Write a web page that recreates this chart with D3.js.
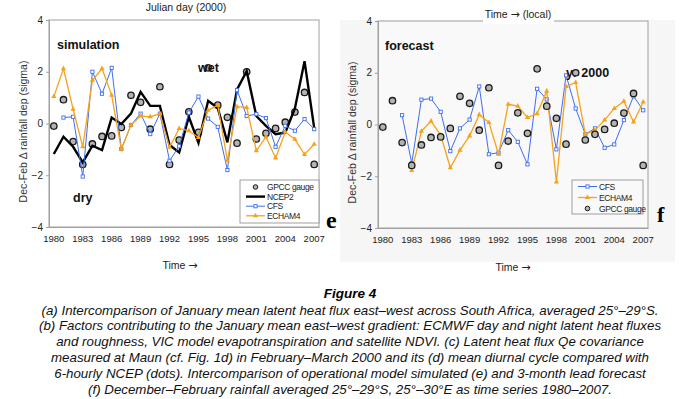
<!DOCTYPE html>
<html>
<head>
<meta charset="utf-8">
<script src="https://cdn.jsdelivr.net/npm/d3@7"></script>
<style>
  body { margin: 0; background: #fff; }
  svg { display: block; font-family: "Liberation Sans", Arial, sans-serif; }
</style>
</head>
<body>
<div class="chart-area"></div>
<script>
// Figure 4 (e) simulated and (f) forecast Dec-Feb rainfall, 1980-2007

// ---- Data ----
const years = [1980, 1981, 1982, 1983, 1984, 1985, 1986, 1987, 1988, 1989,
               1990, 1991, 1992, 1993, 1994, 1995, 1996, 1997, 1998, 1999,
               2000, 2001, 2002, 2003, 2004, 2005, 2006, 2007];
const xTickYears = [1980, 1983, 1986, 1989, 1992, 1995, 1998, 2001, 2004, 2007];
const yTicks = [-4, -2, 0, 2, 4];

// observed (both panels)
const gpcc = [-0.1, 0.92, -0.7, -1.58, -0.79, -0.5, -0.48, -0.15, 1.09, 0.82,
              -0.22, 1.42, -1.58, -0.64, 0.45, -0.34, 2.15, 0.71, 0.24, -0.76,
              2.0, -0.6, -0.38, -0.19, 0.05, 0.44, 1.2, -1.58];

// (e) simulation
const ncep2 = [-1.18, -0.51, -0.9, -1.5, -0.86, -1.03, 0.23, -0.02, 0.38, 1.22,
               0.68, 0.68, -0.83, -1.12, 0.26, -0.75, 0.88, 0.6, -0.73, 1.32,
               2.02, 0.29, -0.09, -0.41, -0.35, 0.58, 2.41, -0.17];
const cfsSim = [null, 0.23, 0.26, -2.05, 2.0, 1.15, 2.15, -0.99, -0.06, 0.38,
                -0.41, 0.38, -1.44, -0.88, 0.42, 1.04, 0.19, -0.13, -1.8, 1.29,
                0.29, 0.36, 0.21, -0.9, -0.09, -0.28, 0.17, -0.22];
const echamSim = [1.04, 2.12, 0.55, -0.9, 1.67, 2.12, 1.09, -0.99, -0.06, 0.29,
                  0.26, 0.38, -0.92, -0.19, -0.28, -0.54, 0.51, 0.71, -1.44, 0.65,
                  0.62, -1.05, -0.52, -1.33, -0.33, -0.61, -1.2, -0.8];

// (f) forecast
const cfsFcst = [null, null, 0.36, -1.5, 0.96, 1.0, 0.49, -1.03, -0.15, 0.19,
                 1.47, -1.15, -1.09, -0.22, -0.67, -1.54, 1.38, 0.97, -0.96, 1.9,
                 0.62, -0.38, -0.15, -0.9, -0.77, 0.17, 1.09, 0.55];
const echamFcst = [null, null, null, -1.78, -0.26, 0.13, -0.41, -1.67, -0.99, -0.44,
                   0.38, 0.08, -1.15, 0.78, 0.71, 0.27, 0.42, 1.29, -2.22, 1.47,
                   1.62, -0.38, -0.22, 0.17, 0.62, 0.9, 0.1, 0.87];

const captionTitle = "Figure 4";
const captionLines = [
  "(a) Intercomparison of January mean latent heat flux east\u2013west across South Africa, averaged 25\u00b0\u201329\u00b0S.",
  "(b) Factors contributing to the January mean east\u2013west gradient: ECMWF day and night latent heat fluxes",
  "and roughness, VIC model evapotranspiration and satellite NDVI. (c) Latent heat flux Qe covariance",
  "measured at Maun (cf. Fig. 1d) in February\u2013March 2000 and its (d) mean diurnal cycle compared with",
  "6-hourly NCEP (dots). Intercomparison of operational model simulated (e) and 3-month lead forecast",
  "(f) December\u2013February rainfall averaged 25\u00b0\u201329\u00b0S, 25\u00b0\u201330\u00b0E as time series 1980\u20132007."
];

// ---- Styles ----
const BLUE = "#3d6ef2";
const ORANGE = "#f7a21b";
const FRAME = "#a0a0a0";

const svg = d3.select(".chart-area").append("svg")
    .attr("width", 700)
    .attr("height", 399);

// right panel grey backdrop
svg.append("rect")
    .attr("x", 340).attr("y", 20)
    .attr("width", 335).attr("height", 242)
    .attr("fill", "#f6f6f6");

function drawPanel(box, series, legendItems, legendBox) {
    const g = svg.append("g");

    const x = d3.scaleBand().domain(years).range([box.x0, box.x1]);
    const y = d3.scaleLinear().domain([-4, 4]).range([box.y1, box.y0]);
    const cx = d => x(d) + x.bandwidth() / 2;

    g.append("rect")
        .attr("x", box.x0).attr("y", box.y0)
        .attr("width", box.x1 - box.x0).attr("height", box.y1 - box.y0)
        .attr("fill", box.fill)
        .attr("stroke", FRAME);

    // y axis
    const yAxis = g.append("g")
        .attr("transform", `translate(${box.x0},0)`)
        .call(d3.axisLeft(y).tickValues(yTicks).tickSize(3).tickPadding(3).tickFormat(d3.format("d")));
    yAxis.select(".domain").attr("stroke", FRAME);
    yAxis.selectAll(".tick line").attr("stroke", FRAME);
    yAxis.selectAll("text").attr("font-size", 10).attr("fill", "#222")
        .attr("font-family", "Liberation Sans, Arial, sans-serif");

    // x axis labels
    const xAxis = g.append("g")
        .attr("transform", `translate(0,${box.y1})`)
        .call(d3.axisBottom(x).tickValues(xTickYears).tickSize(0).tickPadding(8));
    xAxis.select(".domain").attr("stroke", FRAME);
    xAxis.selectAll("text").attr("font-size", 9.5).attr("fill", "#222")
        .attr("font-family", "Liberation Sans, Arial, sans-serif");

    // y axis title
    g.append("text")
        .attr("transform", `translate(${box.x0 - 22},${(box.y0 + box.y1) / 2 + 8}) rotate(-90)`)
        .attr("text-anchor", "middle")
        .attr("font-size", 10.5)
        .attr("fill", "#333")
        .text("Dec-Feb \u0394 rainfall dep (sigma)");

    series.forEach(s => {
        const pts = years.map((yr, i) => ({ yr, v: s.values[i] }));
        if (s.type === "line") {
            const line = d3.line()
                .defined(d => d.v != null)
                .x(d => cx(d.yr))
                .y(d => y(d.v));
            g.append("path")
                .datum(pts)
                .attr("d", line)
                .attr("fill", "none")
                .attr("stroke", s.color)
                .attr("stroke-width", s.width)
                .attr("stroke-linejoin", "miter");
        }
        const valid = pts.filter(d => d.v != null);
        if (s.marker === "square") {
            g.selectAll(null).data(valid).join("rect")
                .attr("x", d => cx(d.yr) - 1.6)
                .attr("y", d => y(d.v) - 1.6)
                .attr("width", 3.2).attr("height", 3.2)
                .attr("fill", "#fff")
                .attr("stroke", s.color)
                .attr("stroke-width", 0.9);
        } else if (s.marker === "triangle") {
            g.selectAll(null).data(valid).join("path")
                .attr("transform", d => `translate(${cx(d.yr)},${y(d.v)})`)
                .attr("d", d3.symbol(d3.symbolTriangle, 12))
                .attr("fill", s.color);
        } else if (s.marker === "circle") {
            g.selectAll(null).data(valid).join("circle")
                .attr("cx", d => cx(d.yr))
                .attr("cy", d => y(d.v))
                .attr("r", 3.2)
                .attr("fill", "#b4b4b4")
                .attr("stroke", "#1a1a1a")
                .attr("stroke-width", 1.3);
        }
    });

    // legend
    const lg = g.append("g");
    lg.append("rect")
        .attr("x", legendBox.x).attr("y", legendBox.y)
        .attr("width", legendBox.w).attr("height", legendBox.h)
        .attr("fill", legendBox.fill)
        .attr("stroke", "#888")
        .attr("stroke-width", 0.8);
    legendItems.forEach((item, i) => {
        const ly = legendBox.y + legendBox.first + i * legendBox.step;
        const x0 = legendBox.x + 6, x1 = legendBox.x + 25;
        if (item.type === "line") {
            lg.append("line")
                .attr("x1", x0).attr("x2", x1)
                .attr("y1", ly).attr("y2", ly)
                .attr("stroke", item.color)
                .attr("stroke-width", item.width);
        }
        const mx = (x0 + x1) / 2;
        if (item.marker === "square") {
            lg.append("rect")
                .attr("x", mx - 1.6).attr("y", ly - 1.6)
                .attr("width", 3.2).attr("height", 3.2)
                .attr("fill", "#fff").attr("stroke", item.color).attr("stroke-width", 0.9);
        } else if (item.marker === "triangle") {
            lg.append("path")
                .attr("transform", `translate(${mx},${ly})`)
                .attr("d", d3.symbol(d3.symbolTriangle, 12))
                .attr("fill", item.color);
        } else if (item.marker === "circle") {
            lg.append("circle")
                .attr("cx", mx).attr("cy", ly).attr("r", 2.3)
                .attr("fill", "#b4b4b4").attr("stroke", "#1a1a1a").attr("stroke-width", 1);
        }
        lg.append("text")
            .attr("x", x1 + 2)
            .attr("y", ly + 3)
            .attr("font-size", 8.5)
            .attr("letter-spacing", -0.4)
            .attr("fill", "#222")
            .text(item.name);
    });

    return { g, x, y, cx };
}

const gpccSeries = { name: "GPCC gauge", type: "points", marker: "circle", values: gpcc };
const ncepSeries = { name: "NCEP2", type: "line", color: "#000", width: 2.4, values: ncep2 };

// ---- (e) simulation ----
const left = drawPanel(
    { x0: 49, x1: 319, y0: 20, y1: 227, fill: "#fff" },
    [
        gpccSeries,
        ncepSeries,
        { name: "CFS", type: "line", color: BLUE, width: 1, marker: "square", values: cfsSim },
        { name: "ECHAM4", type: "line", color: ORANGE, width: 1.3, marker: "triangle", values: echamSim }
    ],
    [
        { name: "GPCC gauge", marker: "circle" },
        { name: "NCEP2", type: "line", color: "#000", width: 2.4 },
        { name: "CFS", type: "line", color: BLUE, width: 1, marker: "square" },
        { name: "ECHAM4", type: "line", color: ORANGE, width: 1.3, marker: "triangle" }
    ],
    { x: 240, y: 180, w: 79, h: 43, fill: "#fff", first: 7, step: 9.6 }
);

// ---- (f) forecast ----
const right = drawPanel(
    { x0: 378, x1: 648, y0: 21, y1: 228, fill: "#f9f9f9" },
    [
        { name: "CFS", type: "line", color: BLUE, width: 1, marker: "square", values: cfsFcst },
        { name: "ECHAM4", type: "line", color: ORANGE, width: 1.3, marker: "triangle", values: echamFcst },
        gpccSeries
    ],
    [
        { name: "CFS", type: "line", color: BLUE, width: 1, marker: "square" },
        { name: "ECHAM4", type: "line", color: ORANGE, width: 1.3, marker: "triangle" },
        { name: "GPCC gauge", marker: "circle" }
    ],
    { x: 572, y: 180, w: 71, h: 34, fill: "#f9f9f9", first: 6.5, step: 11 }
);

// ---- annotations ----
function label(x, y, txt, size, weight) {
    svg.append("text")
        .attr("x", x).attr("y", y)
        .attr("font-size", size)
        .attr("font-weight", weight || "bold")
        .attr("fill", "#111")
        .text(txt);
}
label(57, 49, "simulation", 12.5);
label(198, 72, "wet", 12.5);
label(73, 202, "dry", 12.5);
label(385, 50, "forecast", 12.5);

// "yr 2000" sits under the 2000 gauge circle
right.g.insert("text", "circle")
    .attr("x", 566).attr("y", 77)
    .attr("font-size", 12.5)
    .attr("font-weight", "bold")
    .attr("fill", "#111")
    .text("yr 2000");

// panel letters
svg.append("text")
    .attr("x", 326).attr("y", 228)
    .attr("font-family", "Liberation Serif, Times New Roman, serif")
    .attr("font-weight", "bold")
    .attr("font-size", 24)
    .text("e");
svg.append("text")
    .attr("x", 657).attr("y", 222)
    .attr("font-family", "Liberation Serif, Times New Roman, serif")
    .attr("font-weight", "bold")
    .attr("font-size", 22)
    .text("f");

// text with a heavier arrow glyph
function arrowText(sel, before, after) {
    sel.append("tspan").text(before);
    sel.append("tspan").attr("font-family", "DejaVu Sans, sans-serif").attr("font-size", 11).text("\u2192");
    if (after) sel.append("tspan").text(after);
}

// top labels
svg.append("text")
    .attr("x", 186).attr("y", 11)
    .attr("text-anchor", "middle")
    .attr("font-size", 10.5)
    .attr("fill", "#222")
    .text("Julian day (2000)");

const tl = svg.append("g");
tl.append("rect")
    .attr("x", 483).attr("y", 8)
    .attr("width", 71).attr("height", 16)
    .attr("fill", "#fff");
arrowText(tl.append("text")
    .attr("x", 518).attr("y", 18)
    .attr("text-anchor", "middle")
    .attr("font-size", 10.5)
    .attr("fill", "#222"), "Time ", " (local)");

arrowText(svg.append("text")
    .attr("x", 180).attr("y", 269)
    .attr("text-anchor", "middle")
    .attr("font-size", 10.5)
    .attr("fill", "#222"), "Time ");
arrowText(svg.append("text")
    .attr("x", 513).attr("y", 271)
    .attr("text-anchor", "middle")
    .attr("font-size", 10.5)
    .attr("fill", "#222"), "Time ");

// ---- caption ----
svg.append("text")
    .attr("x", 350).attr("y", 298)
    .attr("text-anchor", "middle")
    .attr("font-size", 13.5)
    .attr("font-weight", "bold")
    .attr("font-style", "italic")
    .text(captionTitle);

svg.selectAll("text.caption")
    .data(captionLines)
    .join("text")
    .attr("class", "caption")
    .attr("x", 350)
    .attr("y", (d, i) => 314.5 + i * 15.8)
    .attr("text-anchor", "middle")
    .attr("font-size", 13.3)
    .attr("font-style", "italic")
    .attr("fill", "#111")
    .text(d => d);
</script>
</body>
</html>
